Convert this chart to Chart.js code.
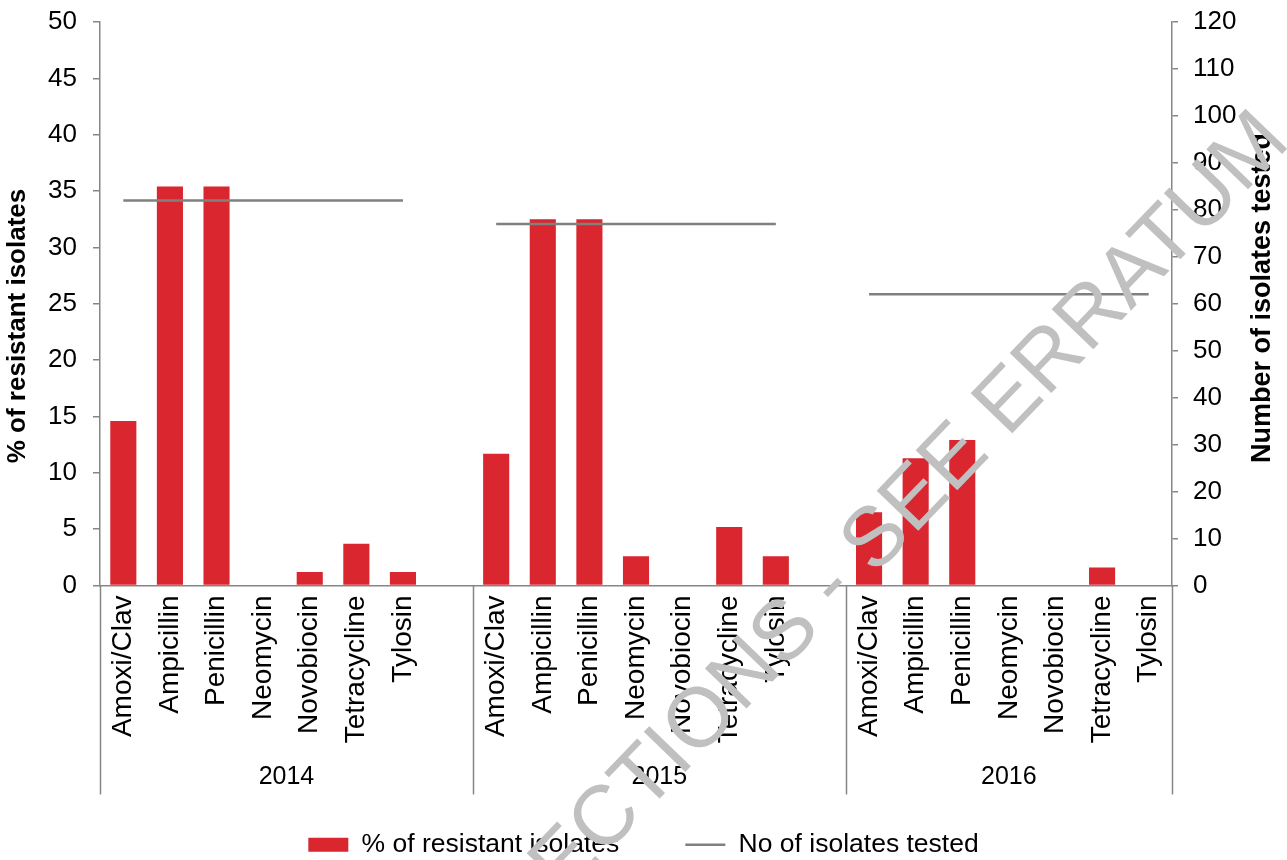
<!DOCTYPE html>
<html>
<head>
<meta charset="utf-8">
<script src="https://cdn.jsdelivr.net/npm/chart.js@4.4.1/dist/chart.umd.min.js"></script>
<style>
  html, body { margin: 0; padding: 0; background: #fff; overflow: hidden; }
</style>
</head>
<body>
<canvas id="myChart" width="1287" height="860"></canvas>
<script>
const years = ['2014', '2015', '2016'];
const antibiotics = ['Amoxi/Clav', 'Ampicillin', 'Penicillin', 'Neomycin', 'Novobiocin', 'Tetracycline', 'Tylosin'];
const resistant2014 = [14.6, 35.4, 35.4, 0, 1.2, 3.7, 1.2];
const resistant2015 = [11.7, 32.5, 32.5, 2.6, 0, 5.2, 2.6];
const resistant2016 = [6.5, 11.3, 12.9, 0, 0, 1.6, 0];
const isolatesTested = [82, 77, 62];
const leftTicks = { min: 0, max: 50, step: 5 };
const rightTicks = { min: 0, max: 120, step: 10 };

const FONT = '"Liberation Sans", Arial, sans-serif';
const AXIS_GREY = '#868686';

// one slot per antibiotic, with an empty slot between years
const resistantByYear = [resistant2014, resistant2015, resistant2016];
let labels = [], resistant = [], tested = [], groupStart = [], groupEnd = [];
years.forEach((yr, y) => {
    groupStart.push(labels.length);
    antibiotics.forEach((ab, i) => {
        labels.push(ab);
        resistant.push(resistantByYear[y][i]);
        tested.push(isolatesTested[y]);
    });
    if (y < years.length - 1) {
        labels.push('');
        resistant.push(null);
        tested.push(null);
    }
    groupEnd.push(labels.length - 1);
});

function drawVertical(ctx, text, x, y, font) {
    ctx.save();
    ctx.font = font;
    ctx.fillStyle = '#000';
    ctx.textAlign = 'center';
    ctx.textBaseline = 'middle';
    ctx.translate(x, y);
    ctx.rotate(-Math.PI / 2);
    ctx.fillText(text, 0, 0);
    ctx.restore();
}

const extrasPlugin = {
    id: 'extras',
    afterDraw(chart) {
        const ctx = chart.ctx;
        const x = chart.scales.x;
        const top = x.top;

        ctx.save();
        // year separators
        ctx.strokeStyle = AXIS_GREY;
        ctx.lineWidth = 1.5;
        let edges = [groupStart[0] - 0.5];
        groupEnd.forEach(e => edges.push(e + 0.5));
        edges.forEach(v => {
            const px = Math.round(x.getPixelForValue(v)) + 0.5;
            ctx.beginPath();
            ctx.moveTo(px, top);
            ctx.lineTo(px, top + 209);
            ctx.stroke();
        });

        // year labels
        ctx.fillStyle = '#000';
        ctx.font = '25px ' + FONT;
        ctx.textAlign = 'center';
        ctx.textBaseline = 'middle';
        years.forEach((yr, i) => {
            const px = (x.getPixelForValue(groupStart[i] - 0.5) + x.getPixelForValue(groupEnd[i] + 0.5)) / 2;
            ctx.fillText(yr, px, top + 192);
        });
        ctx.restore();

        // axis titles, both reading bottom to top
        drawVertical(ctx, '% of resistant isolates', 18, 326, 'bold 26px ' + FONT);
        drawVertical(ctx, 'Number of isolates tested', chart.scales.y1.right - 24, 298, 'bold 27px ' + FONT);

        // watermark
        ctx.save();
        ctx.fillStyle = '#c0c0c0';
        ctx.font = '84px ' + FONT;
        ctx.textAlign = 'center';
        ctx.textBaseline = 'middle';
        ctx.translate(825, 594);
        ctx.rotate(-46 * Math.PI / 180);
        ctx.fillText('CORRECTIONS - SEE ERRATUM', 0, 0);
        ctx.restore();
    }
};

Chart.defaults.font.family = FONT;
Chart.defaults.color = '#000';

function fixWidth(w) {
    return scale => {
        scale.width = w;
        scale.paddingTop = 0;
        scale.paddingBottom = 0;
    };
}

new Chart(document.getElementById('myChart'), {
    type: 'bar',
    data: {
        labels: labels,
        datasets: [{
            label: '% of resistant isolates',
            data: resistant,
            backgroundColor: '#d9262f',
            borderWidth: 0,
            pointStyle: 'rect',
            yAxisID: 'y',
            categoryPercentage: 1,
            barPercentage: 0.56,
            order: 1
        }, {
            type: 'line',
            label: 'No of isolates tested',
            data: tested,
            borderColor: '#808080',
            backgroundColor: '#808080',
            borderWidth: 2.5,
            pointRadius: 0,
            pointStyle: 'line',
            spanGaps: false,
            yAxisID: 'y1',
            order: 0
        }]
    },
    options: {
        responsive: false,
        animation: false,
        layout: { padding: { top: 22, left: 0, right: 0, bottom: -8 } },
        plugins: {
            tooltip: { enabled: false },
            legend: {
                position: 'bottom',
                labels: {
                    usePointStyle: true,
                    pointStyleWidth: 40,
                    boxHeight: 14,
                    padding: 66,
                    color: '#000',
                    font: { size: 26.5 },
                    sort: (a, b) => a.datasetIndex - b.datasetIndex
                }
            }
        },
        scales: {
            x: {
                grid: { display: false, drawTicks: false },
                border: { display: true, color: AXIS_GREY, width: 1.5 },
                ticks: {
                    autoSkip: false,
                    minRotation: 90,
                    maxRotation: 90,
                    padding: 10,
                    color: '#000',
                    font: { size: 28 }
                },
                afterFit(scale) { scale.height = 180; }
            },
            y: {
                position: 'left',
                min: leftTicks.min,
                max: leftTicks.max,
                grid: { drawOnChartArea: false, tickLength: 7, color: AXIS_GREY, lineWidth: 1.5 },
                border: { color: AXIS_GREY, width: 1.5 },
                ticks: { stepSize: leftTicks.step, padding: 16, color: '#000', font: { size: 26 } },
                afterFit: fixWidth(100)
            },
            y1: {
                position: 'right',
                min: rightTicks.min,
                max: rightTicks.max,
                grid: { drawOnChartArea: false, tickLength: 6, color: AXIS_GREY, lineWidth: 1.5 },
                border: { color: AXIS_GREY, width: 1.5 },
                ticks: { stepSize: rightTicks.step, padding: 15, color: '#000', font: { size: 26 } },
                afterFit: fixWidth(115)
            }
        }
    },
    plugins: [extrasPlugin]
});
</script>
</body>
</html>
